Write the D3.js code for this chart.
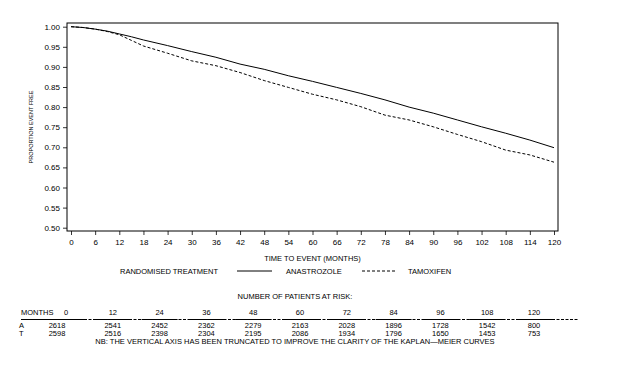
<!DOCTYPE html>
<html>
<head>
<meta charset="utf-8">
<script src="https://cdn.jsdelivr.net/npm/d3@7"></script>
<style>
  body { margin: 0; background: #fff; }
  svg text { font-family: "Liberation Sans", Arial, sans-serif; fill: #000; }
</style>
</head>
<body>
<div id="chart"></div>
<script>
// survival curves (months, proportion event free)
var months = [0, 3, 6, 9, 12, 15, 18, 24, 30, 36, 42, 48, 54, 60, 66, 72, 78, 84, 90, 96, 102, 108, 114, 120];
var anastrozole = [1.000, 0.998, 0.994, 0.989, 0.982, 0.975, 0.967, 0.953, 0.938, 0.924, 0.907, 0.894, 0.878, 0.864, 0.849, 0.834, 0.818, 0.800, 0.785, 0.768, 0.751, 0.735, 0.718, 0.699];
var tamoxifen = [1.000, 0.998, 0.994, 0.988, 0.980, 0.966, 0.952, 0.934, 0.915, 0.903, 0.886, 0.866, 0.849, 0.832, 0.818, 0.801, 0.780, 0.768, 0.751, 0.732, 0.714, 0.693, 0.681, 0.663];

// numbers at risk
var riskMonths = [0, 12, 24, 36, 48, 60, 72, 84, 96, 108, 120];
var riskA = [2618, 2541, 2452, 2362, 2279, 2163, 2028, 1896, 1728, 1542, 800];
var riskT = [2598, 2516, 2398, 2304, 2195, 2086, 1934, 1796, 1650, 1453, 753];

var xTicks = d3.range(0, 121, 6);
var yTicks = d3.range(0.50, 1.0001, 0.05);

var width = 622, height = 372;
var svg = d3.select("#chart").append("svg")
    .attr("width", width).attr("height", height);

var x = d3.scaleLinear().domain([0, 120]).range([71, 554]);
var y = d3.scaleLinear().domain([0.5, 1]).range([227.7, 26.7]);

var box = { left: 67, right: 558, top: 23, bottom: 231 };

// minor ticks
var gx = svg.append("g").attr("transform", "translate(0," + box.bottom + ")");
gx.call(d3.axisBottom(x).tickValues(d3.range(0, 121, 2)).tickSize(2).tickFormat(""));
gx.call(d3.axisBottom(x).tickValues(xTicks).tickSize(4).tickPadding(4).tickFormat(d3.format("d")));
gx.selectAll(".domain").remove();
gx.selectAll("text").attr("font-size", "8px").style("font-family", "'Liberation Sans', Arial, sans-serif");

var gy = svg.append("g").attr("transform", "translate(" + box.left + ",0)");
gy.call(d3.axisLeft(y).tickValues(d3.range(50, 101, 1).map(function (d) { return d / 100; })).tickSize(2).tickFormat(""));
gy.call(d3.axisLeft(y).tickValues(yTicks).tickSize(4).tickPadding(3).tickFormat(d3.format(".2f")));
gy.selectAll(".domain").remove();
gy.selectAll("text").attr("font-size", "8px").style("font-family", "'Liberation Sans', Arial, sans-serif");

svg.selectAll(".tick line").attr("stroke", "#000").attr("stroke-width", 0.8);

svg.append("rect")
    .attr("x", box.left).attr("y", box.top)
    .attr("width", box.right - box.left).attr("height", box.bottom - box.top)
    .attr("fill", "none").attr("stroke", "#000").attr("stroke-width", 1);

var line = d3.line()
    .x(function (d) { return x(d[0]); })
    .y(function (d) { return y(d[1]); });

svg.append("path")
    .datum(months.map(function (m, i) { return [m, anastrozole[i]]; }))
    .attr("d", line).attr("fill", "none").attr("stroke", "#000").attr("stroke-width", 1);

svg.append("path")
    .datum(months.map(function (m, i) { return [m, tamoxifen[i]]; }))
    .attr("d", line).attr("fill", "none").attr("stroke", "#000").attr("stroke-width", 1)
    .attr("stroke-dasharray", "3,2");

// axis titles
svg.append("text")
    .attr("transform", "translate(33," + ((box.top + box.bottom) / 2) + ") rotate(-90)")
    .attr("text-anchor", "middle").attr("font-size", "5.5px")
    .text("PROPORTION EVENT FREE");

svg.append("text")
    .attr("x", (box.left + box.right) / 2).attr("y", 261)
    .attr("text-anchor", "middle").attr("font-size", "7.5px")
    .text("TIME TO EVENT (MONTHS)");

// legend
var legendY = 271;
svg.append("text").attr("x", 120).attr("y", legendY + 3).attr("font-size", "7.5px").text("RANDOMISED TREATMENT");
svg.append("line").attr("x1", 237).attr("x2", 272).attr("y1", legendY).attr("y2", legendY)
    .attr("stroke", "#000").attr("stroke-width", 1);
svg.append("text").attr("x", 286).attr("y", legendY + 3).attr("font-size", "7.5px").text("ANASTROZOLE");
svg.append("line").attr("x1", 362).attr("x2", 397).attr("y1", legendY).attr("y2", legendY)
    .attr("stroke", "#000").attr("stroke-width", 1).attr("stroke-dasharray", "3,2");
svg.append("text").attr("x", 408).attr("y", legendY + 3).attr("font-size", "7.5px").text("TAMOXIFEN");

// risk table
var col = d3.scalePoint().domain(riskMonths).range([66, 534]);

svg.append("text").attr("x", 295).attr("y", 299)
    .attr("text-anchor", "middle").attr("font-size", "7.5px")
    .text("NUMBER OF PATIENTS AT RISK:");

svg.append("text").attr("x", 21).attr("y", 315).attr("font-size", "7.5px").text("MONTHS");

svg.selectAll(".hdr").data(riskMonths).enter().append("text")
    .attr("class", "hdr")
    .attr("x", function (d) { return col(d); }).attr("y", 315)
    .attr("text-anchor", "middle").attr("font-size", "7.5px")
    .text(function (d) { return d; });

svg.append("line").attr("x1", 21).attr("x2", 578).attr("y1", 319.5).attr("y2", 319.5)
    .attr("stroke", "#000").attr("stroke-width", 1).attr("stroke-dasharray", "3,1.5");
svg.selectAll(".seg").data(riskMonths).enter().append("line")
    .attr("class", "seg")
    .attr("x1", function (d, i) { return i === 0 ? 21 : col(d) - 18; })
    .attr("x2", function (d) { return col(d) + 18; })
    .attr("y1", 319.5).attr("y2", 319.5)
    .attr("stroke", "#000").attr("stroke-width", 1);

function colX(d, i) { return i === 0 ? col(d) - 9 : col(d); }

svg.append("text").attr("x", 19).attr("y", 328).attr("font-size", "7.5px").text("A");
svg.selectAll(".ra").data(riskMonths).enter().append("text")
    .attr("class", "ra")
    .attr("x", colX).attr("y", 328)
    .attr("text-anchor", "middle").attr("font-size", "7.5px")
    .text(function (d, i) { return riskA[i]; });

svg.append("text").attr("x", 19).attr("y", 336).attr("font-size", "7.5px").text("T");
svg.selectAll(".rt").data(riskMonths).enter().append("text")
    .attr("class", "rt")
    .attr("x", colX).attr("y", 336)
    .attr("text-anchor", "middle").attr("font-size", "7.5px")
    .text(function (d, i) { return riskT[i]; });

svg.append("text").attr("x", 295).attr("y", 344)
    .attr("text-anchor", "middle").attr("font-size", "7.5px")
    .text("NB: THE VERTICAL AXIS HAS BEEN TRUNCATED TO IMPROVE THE CLARITY OF THE KAPLAN\u2014MEIER CURVES");
</script>
</body>
</html>
